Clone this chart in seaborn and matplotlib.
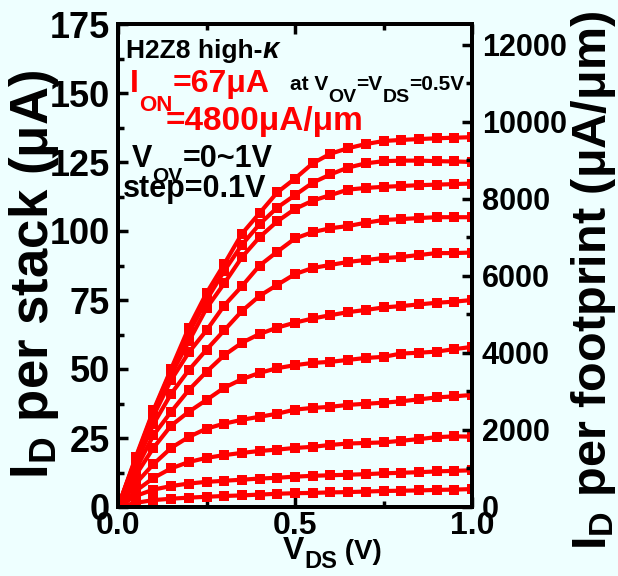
import matplotlib
matplotlib.use("Agg")
import matplotlib.pyplot as plt
import seaborn as sns
import pandas as pd
from matplotlib.ticker import MultipleLocator

# ---------------- data ----------------
vds = [0.0, 0.05, 0.1, 0.15, 0.2, 0.25, 0.3, 0.35, 0.4, 0.45, 0.5,
       0.55, 0.6, 0.65, 0.7, 0.75, 0.8, 0.85, 0.9, 0.95, 1.0]
vov_labels = ["1.0", "0.9", "0.8", "0.7", "0.6", "0.5", "0.4", "0.3", "0.2", "0.1", "0.0"]
id_vov10 = [0, 18, 35, 50, 65, 77.5, 88, 99, 106.5, 114, 119, 124.5, 128, 130, 131.5, 132.6, 133, 133.3, 133.6, 133.8, 134]
id_vov09 = [0, 17.5, 34.5, 49.5, 63, 75, 85.5, 95, 102.5, 108.5, 113, 117.5, 120.5, 123, 124.5, 125.3, 125.5, 125.5, 125.3, 125.2, 125.0]
id_vov08 = [0, 17, 34, 48, 60, 72, 81, 90.5, 97.8, 103.5, 108, 111, 113, 115, 115.6, 116, 116.3, 116.6, 116.8, 117, 117.2]
id_vov07 = [0, 17, 33, 46, 56, 64, 73, 80, 87.5, 92.5, 97.3, 99.6, 101, 101.8, 103, 104, 104.3, 104.7, 105, 105, 105]
id_vov06 = [0, 15.5, 30, 41, 49.6, 57, 64, 71, 76.5, 80.5, 84.4, 86.6, 87.7, 88.8, 89.5, 90.2, 90.6, 91.3, 92, 92, 92.2]
id_vov05 = [0, 13.5, 26, 34.5, 42.4, 49, 55, 59.5, 62.7, 65, 66.8, 68.3, 69.5, 70.6, 71.4, 72.3, 72.8, 73.4, 74.0, 74.4, 75.0]
id_vov04 = [0, 11.5, 21.4, 29.5, 34.5, 38.8, 43.2, 46.3, 48.6, 50.3, 51.4, 52.2, 52.6, 53.3, 54.0, 54.4, 55.6, 55.9, 56.3, 57.2, 58.0]
id_vov03 = [0, 8.5, 15.5, 21.4, 25.4, 28.4, 30.2, 31.6, 32.7, 33.8, 35.3, 35.9, 36.3, 37.0, 37.4, 37.8, 38.3, 39.0, 39.7, 40.1, 40.6]
id_vov02 = [0, 5.8, 10.5, 14.0, 16.3, 17.8, 18.8, 19.6, 20.3, 20.8, 21.4, 21.8, 22.5, 23.0, 23.2, 23.4, 24.0, 24.6, 25.3, 25.6, 25.5]
id_vov01 = [0, 4.0, 6.3, 7.6, 8.5, 9.1, 9.5, 9.9, 10.3, 10.6, 11.0, 11.3, 11.5, 11.7, 11.9, 12.2, 12.4, 12.6, 12.9, 13.1, 13.3]
id_vov00 = [0, 1.5, 2.5, 3.0, 3.4, 3.7, 4.0, 4.2, 4.5, 4.8, 5.0, 5.1, 5.3, 5.4, 5.6, 5.8, 5.9, 6.0, 6.2, 6.3, 6.5]
curves = [id_vov10, id_vov09, id_vov08, id_vov07, id_vov06, id_vov05,
          id_vov04, id_vov03, id_vov02, id_vov01, id_vov00]
left_ticks = [0, 25, 50, 75, 100, 125, 150, 175]
right_ticks = [0, 2000, 4000, 6000, 8000, 10000, 12000]
x_ticks = [0.0, 0.5, 1.0]
x_ticklabels = ["0.0", "0.5", "1.0"]
stack_to_fp = 4800 / 67  # uA -> uA/um

rows = []
for lab, ys in zip(vov_labels, curves):
    for x, y in zip(vds, ys):
        rows.append({"VDS": x, "ID": y, "VOV": lab})
df = pd.DataFrame(rows)

# ---------------- style ----------------
BG = "#eeffff"
sns.set_theme(style="ticks")
plt.rcParams["font.family"] = ["Liberation Sans", "DejaVu Sans"]
plt.rcParams["font.weight"] = "bold"
plt.rcParams["text.color"] = "black"
plt.rcParams["axes.labelcolor"] = "black"
plt.rcParams["xtick.color"] = "black"
plt.rcParams["ytick.color"] = "black"
plt.rcParams["mathtext.fontset"] = "custom"
plt.rcParams["mathtext.rm"] = "Liberation Sans:bold"
plt.rcParams["mathtext.bf"] = "Liberation Sans:bold"
plt.rcParams["mathtext.it"] = "Liberation Sans:italic:bold"

W, H = 618, 576
fig = plt.figure(figsize=(W / 100, H / 100), dpi=100, facecolor=BG)
ax = fig.add_axes([118 / W, 1 - 507 / H, (472 - 118) / W, (507 - 24) / H])
ax.set_facecolor(BG)

sns.lineplot(data=df, x="VDS", y="ID", hue="VOV", palette=["#ff0000"] * 11,
             marker="s", markersize=7.5, markeredgewidth=0, linewidth=3,
             legend=False, ax=ax, sort=False, estimator=None)

ax.set_xlim(0, 1.0)
ax.set_ylim(0, 175)
ax.set_xticks(x_ticks)
ax.set_xticklabels(x_ticklabels)
ax.set_yticks(left_ticks)
ax.xaxis.set_minor_locator(MultipleLocator(0.25))
ax.yaxis.set_minor_locator(MultipleLocator(12.5))
ax.set_xlabel("")
ax.set_ylabel("")
for sp in ax.spines.values():
    sp.set_linewidth(2.8)
    sp.set_color("black")
ax.tick_params(axis="y", which="major", direction="in", length=7, width=2.5,
               labelsize=26, pad=6, colors="black")
ax.tick_params(axis="x", which="major", direction="in", length=7, width=2.5,
               labelsize=23, pad=3, top=True, colors="black")
ax.tick_params(which="minor", direction="in", length=4, width=2.5, top=True)
for lbl in ax.get_xticklabels() + ax.get_yticklabels():
    lbl.set_fontweight("bold")

ax2 = ax.twinx()
ax2.set_ylim(0, 175 * stack_to_fp)
ax2.set_yticks(right_ticks)
ax2.yaxis.set_minor_locator(MultipleLocator(1000))
ax2.tick_params(which="major", direction="in", length=7, width=2.5,
                labelsize=22, pad=7, colors="black")
ax2.tick_params(which="minor", direction="in", length=4, width=2.5)
for lbl in ax2.get_yticklabels():
    lbl.set_fontweight("bold")
for sp in ax2.spines.values():
    sp.set_linewidth(2.8)
    sp.set_color("black")

renderer = fig.canvas.get_renderer()


def runs(x_px, y_px, parts):
    x = x_px
    for s, size, dy, color in parts:
        t = fig.text(x / W, 1 - (y_px + dy) / H, s, fontsize=size, color=color,
                     fontweight="bold", va="baseline", ha="left")
        x += t.get_window_extent(renderer).width


RED = "#ff0000"
runs(126, 58, [("H2Z8 high-", 19, 0, "black"), (r"$\kappa$", 21, 0, "black")])
runs(130, 92, [("I", 23, 0, RED), ("ON", 16, 19, RED), ("=67μA", 23, 0, RED)])
runs(166, 130, [("=4800μA/μm", 24, 0, RED)])
runs(290, 90, [("at V", 15, 0, "black"), ("OV", 14, 12, "black"),
               ("=V", 15, 0, "black"), ("DS", 14, 12, "black"),
               ("=0.5V", 15, 0, "black")])
runs(132, 167, [("V", 22, 0, "black"), ("OV", 15, 15, "black"),
                ("=0~1V", 22, 0, "black")])
runs(123, 197, [("step=0.1V", 22, 0, "black")])

# axis labels
runs(283, 559, [("V", 23, 0, "black"), ("DS", 17, 9, "black"), (" (V)", 20, 0, "black")])
fig.text(34 / W, 1 - 275 / H, r"$\mathbf{I_D}$ per stack (μA)", rotation=90,
         fontsize=38, fontweight="bold", ha="center", va="center")
fig.text(593 / W, 1 - 280 / H, r"$\mathbf{I_D}$ per footprint (μA/μm)", rotation=90,
         fontsize=35, fontweight="bold", ha="center", va="center")

fig.savefig("out.png", dpi=100, facecolor=BG)
